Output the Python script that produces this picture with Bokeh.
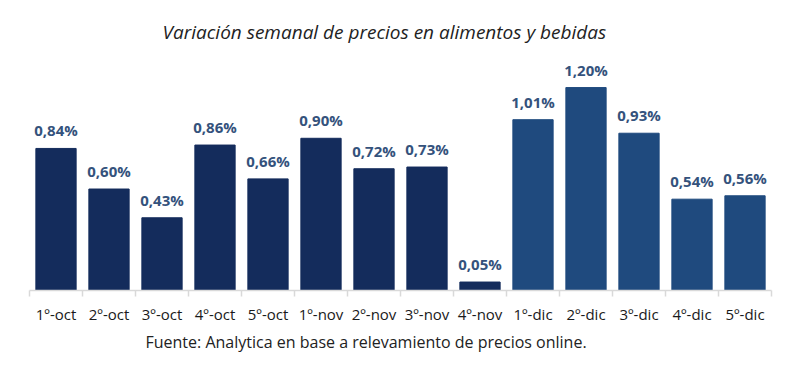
from bokeh.plotting import figure
from bokeh.models import ColumnDataSource, Range1d, FixedTicker, LabelSet, Title
from bokeh.core.properties import value
from bokeh.embed import file_html
from bokeh.resources import INLINE

categories = ["1º-oct", "2º-oct", "3º-oct", "4º-oct", "5º-oct",
              "1º-nov", "2º-nov", "3º-nov", "4º-nov",
              "1º-dic", "2º-dic", "3º-dic", "4º-dic", "5º-dic"]
values = [0.84, 0.60, 0.43, 0.86, 0.66, 0.90, 0.72, 0.73, 0.05,
          1.01, 1.20, 0.93, 0.54, 0.56]
months = [c.split("-")[1] for c in categories]
title_text = "Variación semanal de precios en alimentos y bebidas"
source_text = "Fuente: Analytica en base a relevamiento de precios online."

DARK = "#142c5c"
LIGHT = "#1f4a7e"
colors = [LIGHT if m == "dic" else DARK for m in months]
xs = [i + 0.5 for i in range(len(categories))]
labels = [("%.2f%%" % v).replace(".", ",") for v in values]

src = ColumnDataSource(dict(x=xs, top=values, color=colors, label=labels))

FONT = "Open Sans"
p = figure(width=782, height=366, output_backend="svg", toolbar_location=None,
           x_range=Range1d(0, len(categories)), y_range=Range1d(0, 1.36),
           title=None)
p.min_border_left = 29
p.min_border_right = 11
p.min_border_top = 60
p.min_border_bottom = 76
p.outline_line_color = None
p.background_fill_color = "white"
p.border_fill_color = "white"
p.grid.visible = False
p.yaxis.visible = False

p.vbar(x="x", top="top", width=0.76, bottom=0, color="color", source=src)

p.add_layout(LabelSet(x="x", y="top", text="label", source=src,
                      text_align="center", text_baseline="bottom", y_offset=8,
                      text_font=value(FONT), text_font_size="15px",
                      text_font_style="bold", text_color="#34527c"))

ax = p.xaxis[0]
ax.ticker = FixedTicker(ticks=xs, minor_ticks=list(range(len(categories) + 1)))
ax.major_label_overrides = {x: c for x, c in zip(xs, categories)}
ax.axis_line_color = "#d9d9d9"
ax.axis_line_width = 1.5
ax.major_tick_line_color = None
ax.major_tick_out = 0
ax.major_tick_in = 0
ax.minor_tick_line_color = "#d9d9d9"
ax.minor_tick_line_width = 1.5
ax.minor_tick_out = 6
ax.minor_tick_in = 0
ax.major_label_standoff = 7
ax.major_label_text_font = FONT
ax.major_label_text_font_size = "15px"
ax.major_label_text_color = "#1a1a1a"

p.add_layout(Title(text=title_text, align="left", offset=133, standoff=32,
                   text_font=FONT, text_font_size="19px",
                   text_font_style="italic", text_color="#222222"), "above")
p.add_layout(Title(text=source_text, align="left", offset=116, standoff=5,
                   text_font=FONT, text_font_size="16px",
                   text_font_style="normal", text_color="#222222"), "below")

open("out.html", "w").write(file_html(p, INLINE))
